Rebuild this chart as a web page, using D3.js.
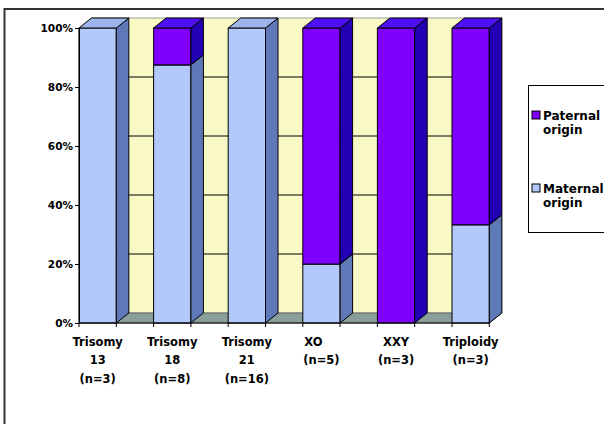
<!DOCTYPE html>
<html>
<head>
<meta charset="UTF-8">
<title>Parental origin of aneuploidy</title>
<script src="https://cdn.jsdelivr.net/npm/d3@7"></script>
<style>
  body { margin: 0; background: #fff; }
  svg text { font-family: "DejaVu Sans", Verdana, sans-serif; font-weight: bold; fill: #000; }
</style>
</head>
<body>
<svg id="chart" width="604" height="424"></svg>
<script>
// data
const categories = ["Trisomy 13", "Trisomy 18", "Trisomy 21", "XO", "XXY", "Triploidy"];
const categoryLines = [
  ["Trisomy", "13", "(n=3)"],
  ["Trisomy", "18", "(n=8)"],
  ["Trisomy", "21", "(n=16)"],
  ["XO    ", "(n=5)"],
  ["XXY", "(n=3)"],
  ["Triploidy", "(n=3)"]
];
const maternal = [100, 87.5, 100, 20, 0, 33.3];
const paternal = [0, 12.5, 0, 80, 100, 66.7];
const yTicks = [0, 20, 40, 60, 80, 100];
const seriesNames = ["Paternal origin", "Maternal origin"];

const colors = {
  maternal: { front: "#b3c9fa", side: "#5f79b8", top: "#9db4ec" },
  paternal: { front: "#8000ff", side: "#2200b4", top: "#4c10f2" }
};

const svg = d3.select("#chart");

// outer frame (clipped by the picture edge)
svg.append("rect")
  .attr("x", 4.5).attr("y", 9)
  .attr("width", 700).attr("height", 500)
  .attr("fill", "#fff")
  .attr("stroke", "#333")
  .attr("stroke-width", 2);

const depth = { dx: 12.5, dy: -10 };

const x = d3.scaleBand()
  .domain(categories)
  .range([79, 489.3])
  .paddingInner(0.5)
  .paddingOuter(0)
  .align(0);

const y = d3.scaleLinear()
  .domain([0, 100])
  .range([323, 28]);

const x0 = x.range()[0], x1 = x.range()[1];

// back wall
svg.append("rect")
  .attr("x", x0 + depth.dx)
  .attr("y", y(100) + depth.dy)
  .attr("width", x1 - x0)
  .attr("height", y(0) - y(100))
  .attr("fill", "#f9f9c6")
  .attr("stroke", "#888")
  .attr("stroke-width", 0.8);

// left side wall
svg.append("path")
  .attr("d", `M${x0},${y(0)}L${x0},${y(100)}L${x0 + depth.dx},${y(100) + depth.dy}L${x0 + depth.dx},${y(0) + depth.dy}Z`)
  .attr("fill", "#e9e9b4")
  .attr("stroke", "#888")
  .attr("stroke-width", 0.8);

// gridlines on the wall
svg.append("g")
  .selectAll("line")
  .data(yTicks.filter(d => d > 0 && d < 100))
  .join("line")
  .attr("x1", x0 + depth.dx)
  .attr("x2", x1 + depth.dx)
  .attr("y1", d => y(d) + depth.dy)
  .attr("y2", d => y(d) + depth.dy)
  .attr("stroke", "#000")
  .attr("stroke-width", 1);

// floor
svg.append("path")
  .attr("d", `M${x0},${y(0)}L${x1},${y(0)}L${x1 + depth.dx},${y(0) + depth.dy}L${x0 + depth.dx},${y(0) + depth.dy}Z`)
  .attr("fill", "#889f9a")
  .attr("stroke", "#555")
  .attr("stroke-width", 0.8);

// bars
const segments = [];
categories.forEach((c, i) => {
  let base = 0;
  [["maternal", maternal[i]], ["paternal", paternal[i]]].forEach(([s, v]) => {
    if (v > 0) segments.push({ cat: c, series: s, y0: base, y1: base + v });
    base += v;
  });
});

const bars = svg.append("g");
segments.forEach(d => {
  const left = x(d.cat), right = x(d.cat) + x.bandwidth();
  const top = y(d.y1), bottom = y(d.y0);
  const col = colors[d.series];
  const g = bars.append("g").attr("stroke", "#000").attr("stroke-width", 1).attr("stroke-linejoin", "round");
  g.append("rect")
    .attr("x", left).attr("y", top)
    .attr("width", right - left).attr("height", bottom - top)
    .attr("fill", col.front);
  g.append("path")
    .attr("d", `M${right},${top}L${right + depth.dx},${top + depth.dy}L${right + depth.dx},${bottom + depth.dy}L${right},${bottom}Z`)
    .attr("fill", col.side);
  g.append("path")
    .attr("d", `M${left},${top}L${right},${top}L${right + depth.dx},${top + depth.dy}L${left + depth.dx},${top + depth.dy}Z`)
    .attr("fill", col.top);
});

// y axis
const yAxis = svg.append("g")
  .attr("transform", `translate(${x0},0)`)
  .call(d3.axisLeft(y).tickValues(yTicks).tickSize(4).tickPadding(2).tickFormat(d => d + "%"));
yAxis.select(".domain").attr("stroke", "#000");
yAxis.selectAll(".tick line").attr("stroke", "#000");
yAxis.selectAll(".tick text").style("font-size", "10.5px").attr("font-family", null).attr("font-size", null);

// x axis with ticks at bar edges
const xAxis = svg.append("g");
xAxis.append("line")
  .attr("x1", x0).attr("x2", x1)
  .attr("y1", y(0)).attr("y2", y(0))
  .attr("stroke", "#000");
const edges = [];
categories.forEach(c => { edges.push(x(c)); edges.push(x(c) + x.bandwidth()); });
xAxis.selectAll(".edge")
  .data(edges)
  .join("line")
  .attr("class", "edge")
  .attr("x1", d => d).attr("x2", d => d)
  .attr("y1", y(0)).attr("y2", y(0) + 4)
  .attr("stroke", "#000");

const labels = svg.append("g")
  .selectAll("text")
  .data(categories)
  .join("text")
  .attr("text-anchor", "middle")
  .style("font-size", "11.5px")
  .style("white-space", "pre")
  .attr("x", d => x(d) + x.bandwidth() / 2);
labels.each(function (d, i) {
  d3.select(this).selectAll("tspan")
    .data(categoryLines[i])
    .join("tspan")
    .attr("x", x(d) + x.bandwidth() / 2)
    .attr("y", (t, j) => 346 + j * 18.3)
    .text(t => t);
});

// legend
const legend = svg.append("g");
legend.append("rect")
  .attr("x", 528.5).attr("y", 85.5)
  .attr("width", 100).attr("height", 147)
  .attr("fill", "#fff")
  .attr("stroke", "#000");
const legendItems = [
  { name: seriesNames[0], color: colors.paternal.front, y: 111 },
  { name: seriesNames[1], color: colors.maternal.front, y: 184 }
];
legendItems.forEach(d => {
  legend.append("rect")
    .attr("x", 532).attr("y", d.y)
    .attr("width", 8).attr("height", 8)
    .attr("fill", d.color)
    .attr("stroke", "#000");
  const words = d.name.split(" ");
  const t = legend.append("text").style("font-size", "12px");
  words.forEach((w, j) => {
    t.append("tspan")
      .attr("x", 543)
      .attr("y", d.y + 8.5 + j * 14.5)
      .text(w);
  });
});
</script>
</body>
</html>
